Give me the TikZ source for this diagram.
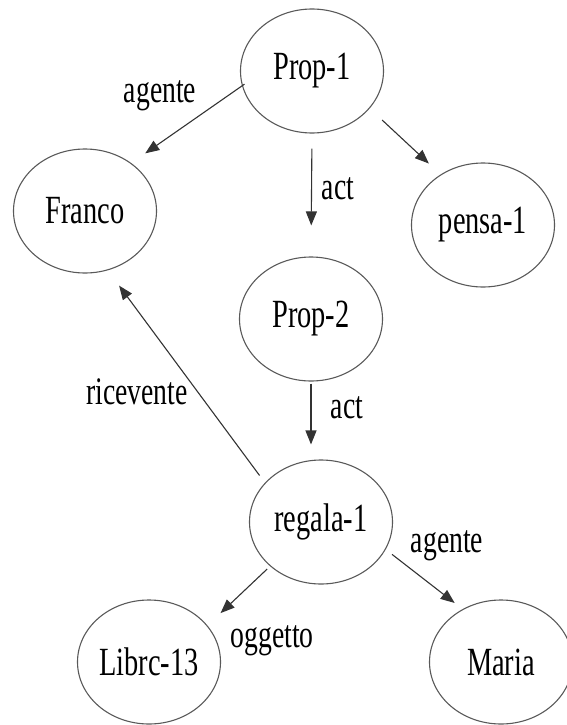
\documentclass[tikz,border=0pt]{standalone}
\usepackage{fontspec}
\setmainfont[FakeStretch=0.71]{Liberation Serif}
\usepackage{tikz}
\usetikzlibrary{arrows.meta,shapes.geometric}

\begin{document}
\begin{tikzpicture}[x=1pt,y=-1pt,>={Triangle[length=14pt,width=11pt]},
  concept/.style={ellipse,draw=black!65,line width=1.1pt,minimum width=143pt,
    minimum height=124pt,inner sep=0pt,font=\fontsize{40}{44}\selectfont},
  rel/.style={->,draw=black!80,line width=1.1pt},
  tag/.style={inner sep=0pt,font=\fontsize{39}{42}\selectfont}]
  \useasboundingbox (0,0) rectangle (566,725);
  % concepts
  \node[concept] (prop1) at (312,71) {Prop-1};
  \node[concept] (franco) at (85,211) {Franco};
  \node[concept] (pensa) at (483,225) {pensa-1};
  \node[concept] (prop2) at (311,319) {Prop-2};
  \node[concept] (regala) at (321,522) {regala-1};
  \node[concept] (libro) at (149,662) {Librc-13};
  \node[concept] (maria) at (501,662) {Maria};
  % relations from Prop-1
  \draw[rel,shorten <=-3pt,shorten >=17pt] (prop1.192) -- (franco.46);
  \node[tag] (agente1) at (160,96) {agente};
  \draw[rel,shorten <=17pt,shorten >=16pt] (prop1.-33) -- (pensa.130);
  \draw[rel,shorten <=15pt,shorten >=31pt] (prop1.south) -- (prop2.north);
  \node[tag] (act1) at (338,189) {act};
  % relations from Prop-2
  \draw[rel,shorten <=2pt,shorten >=15pt] (prop2.south) -- (prop2.south |- regala.north);
  \node[tag] (act2) at (347,408) {act};
  % relations from regala-1
  \draw[rel,shorten <=9pt,shorten >=19pt] (regala.145) -- (franco.-69);
  \node[tag] (ricevente) at (137,392) {ricevente};
  \draw[rel,shorten <=4pt,shorten >=18pt] (regala.-139) -- (libro.32);
  \node[tag] (oggetto) at (272,641) {oggetto};
  \draw[rel,shorten <=8pt,shorten >=10pt] (regala.-23) -- (maria.126);
  \node[tag] (agente2) at (447,546) {agente};
\end{tikzpicture}
\end{document}
